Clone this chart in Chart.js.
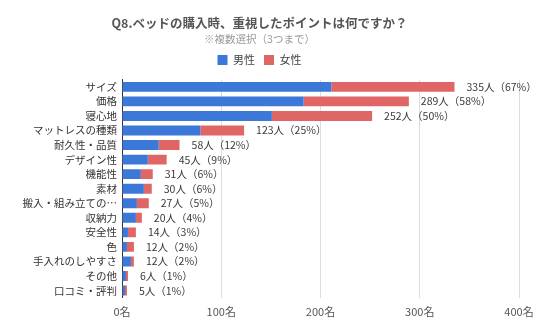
<!DOCTYPE html>
<html>
<head>
<meta charset="utf-8">
<script src="https://cdn.jsdelivr.net/npm/chart.js@4"></script>
<style>
  html, body { margin: 0; padding: 0; background: #fff; }
  #wrap { width: 536px; height: 332px; }
</style>
</head>
<body>
<div id="wrap"><canvas id="chart"></canvas></div>
<script>
// カテゴリと値
const categories = ['サイズ', '価格', '寝心地', 'マットレスの種類', '耐久性・品質', 'デザイン性', '機能性', '素材', '搬入・組み立ての…', '収納力', '安全性', '色', '手入れのしやすさ', 'その他', '口コミ・評判'];
const totals = [335, 289, 252, 123, 58, 45, 31, 30, 27, 20, 14, 12, 12, 6, 5];
const percents = [67, 58, 50, 25, 12, 9, 6, 6, 5, 4, 3, 2, 2, 1, 1];
const male = [211, 183, 151, 79, 37, 26, 19, 22, 15, 14, 6, 5, 9, 4, 3];
const female = [124, 106, 101, 44, 21, 19, 12, 8, 12, 6, 8, 7, 3, 2, 2];
const xTicks = [0, 100, 200, 300, 400];

const fontFamily = '"Noto Sans CJK JP", "Noto Sans", sans-serif';

// 合計ラベルを描くプラグイン
const totalLabels = {
    id: 'totalLabels',
    afterDatasetsDraw(chart) {
        const ctx = chart.ctx;
        const meta = chart.getDatasetMeta(1);
        ctx.save();
        ctx.font = '10.5px ' + fontFamily;
        ctx.fillStyle = '#3a3a3a';
        ctx.textBaseline = 'middle';
        ctx.textAlign = 'left';
        meta.data.forEach((bar, i) => {
            ctx.fillText(totals[i] + '人（' + percents[i] + '%）', bar.x + 12, bar.y);
        });
        ctx.restore();
    }
};

// 凡例の下に少し余白を足す
const legendGap = {
    id: 'legendGap',
    beforeInit(chart) {
        const fit = chart.legend.fit;
        chart.legend.fit = function () {
            fit.bind(chart.legend)();
            this.height += 4;
        };
    }
};

new Chart(document.getElementById('chart'), {
    type: 'bar',
    data: {
        labels: categories,
        datasets: [
            { label: '男性', data: male, backgroundColor: '#3c78d8', categoryPercentage: 0.68, barPercentage: 1 },
            { label: '女性', data: female, backgroundColor: '#e06666', categoryPercentage: 0.68, barPercentage: 1 }
        ]
    },
    options: {
        indexAxis: 'y',
        responsive: true,
        maintainAspectRatio: false,
        animation: false,
        layout: { padding: { left: 0, right: 17, top: 8, bottom: 7 } },
        plugins: {
            title: {
                display: true,
                text: 'Q8.ベッドの購入時、重視したポイントは何ですか？',
                color: '#555',
                font: { family: fontFamily, size: 12.5, weight: 'bold' },
                padding: { top: 8, bottom: 2 }
            },
            subtitle: {
                display: true,
                text: '※複数選択（3つまで）',
                color: '#999',
                font: { family: fontFamily, size: 10.5 },
                padding: { bottom: 0 }
            },
            legend: {
                position: 'top',
                labels: {
                    boxWidth: 10,
                    boxHeight: 10,
                    color: '#444',
                    padding: 9,
                    font: { family: fontFamily, size: 11 }
                }
            },
            tooltip: { enabled: false }
        },
        scales: {
            x: {
                stacked: true,
                min: 0,
                max: 400,
                afterBuildTicks(axis) {
                    axis.ticks = xTicks.map(v => ({ value: v }));
                },
                afterFit(axis) {
                    axis.paddingLeft = 0;
                    axis.paddingRight = 0;
                },
                ticks: {
                    color: '#555',
                    font: { family: fontFamily, size: 11 },
                    padding: 7,
                    callback: v => v + '名'
                },
                grid: { color: '#ddd', drawTicks: false },
                border: { display: false }
            },
            y: {
                stacked: true,
                afterFit(axis) {
                    axis.width = 122;
                },
                ticks: {
                    color: '#333',
                    font: { family: fontFamily, size: 10.5 },
                    padding: 5,
                    autoSkip: false
                },
                grid: { display: false, drawTicks: false },
                border: { display: true, color: '#333', width: 1 }
            }
        }
    },
    plugins: [totalLabels, legendGap]
});
</script>
</body>
</html>
